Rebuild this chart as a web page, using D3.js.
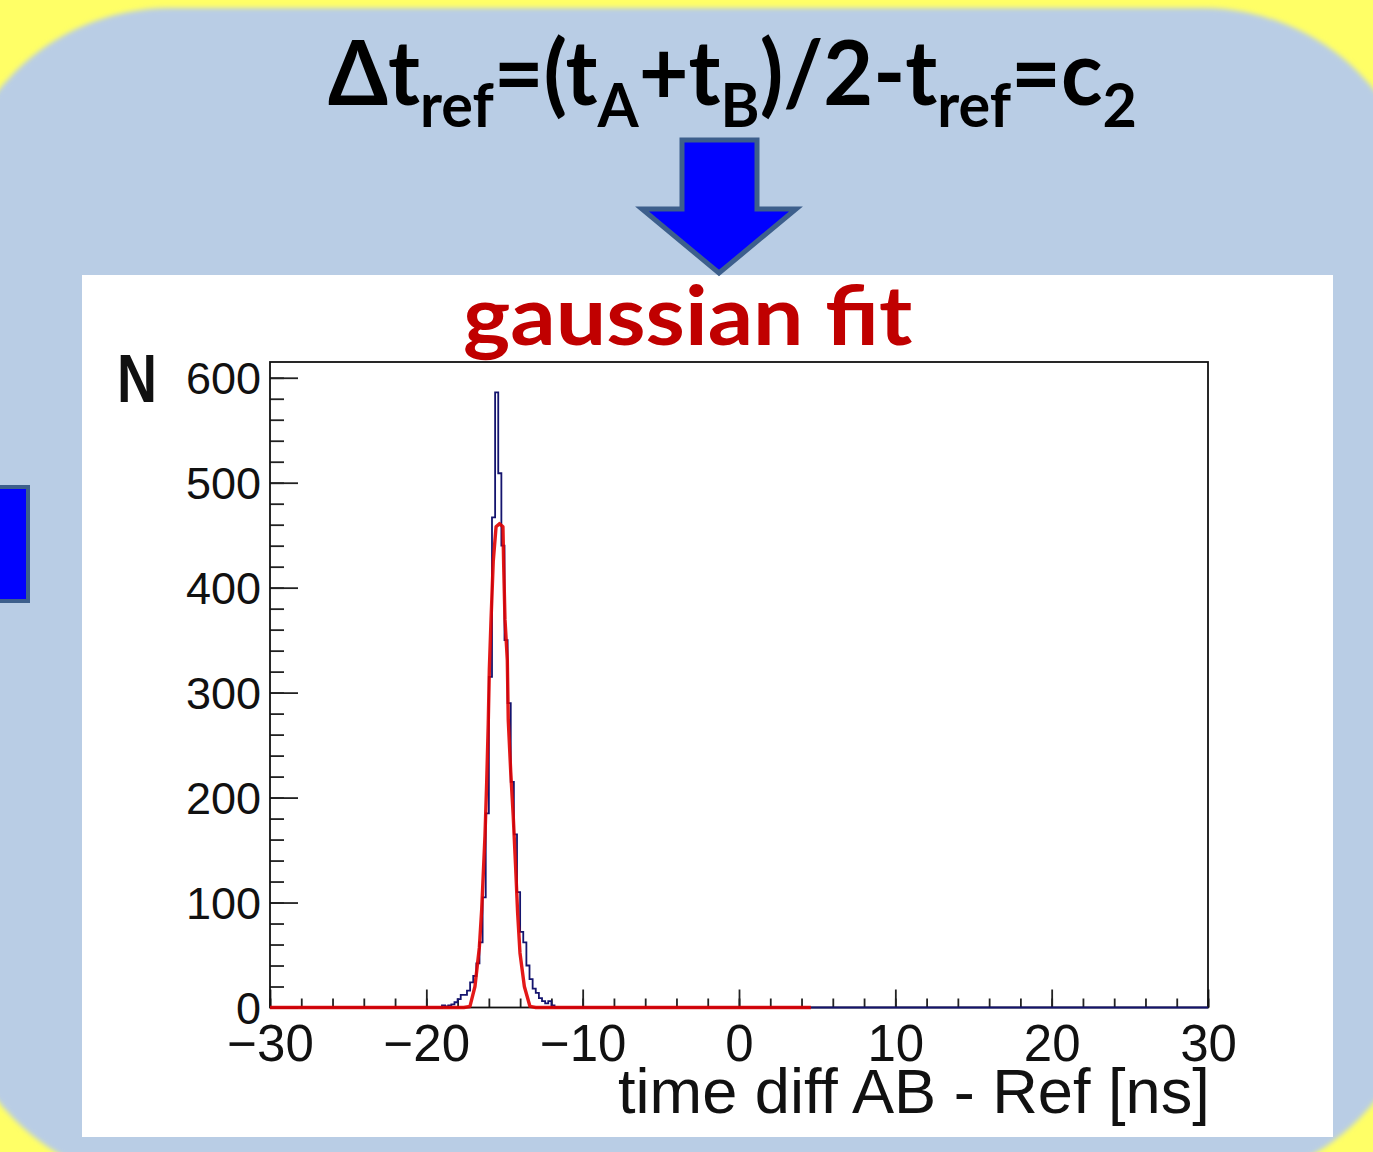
<!DOCTYPE html>
<html>
<head>
<meta charset="utf-8">
<script src="https://cdn.jsdelivr.net/npm/d3@7"></script>
<style>
  body { margin: 0; background: #ffff66; }
  svg { display: block; }
</style>
</head>
<body>
<div id="main"></div>
<script>
const W = 1373;
const H = 1152;

// axis ticks
const xMajor = [-30, -20, -10, 0, 10, 20, 30];
const xMinor = d3.range(-30, 30.01, 2);
const yMajor = [0, 100, 200, 300, 400, 500, 600];
const yMinor = d3.range(0, 601, 20);

// histogram (bin width 0.2 ns), left edges + counts, zero elsewhere
const binWidth = 0.2;
const histX = [-19.2, -19.0, -18.8, -18.6, -18.4, -18.2, -18.0, -17.8, -17.6, -17.4,
               -17.2, -17.0, -16.8, -16.6, -16.4, -16.2, -16.0, -15.8, -15.6, -15.4,
               -15.2, -15.0, -14.8, -14.6, -14.4, -14.2, -14.0, -13.8, -13.6, -13.4,
               -13.2, -13.0, -12.8, -12.6, -12.4, -12.2, -12.0];
const histN = [0, 2, 1, 2, 3, 5, 8, 12, 12, 16,
               24, 30, 42, 62, 105, 185, 315, 467, 586, 509,
               440, 350, 290, 215, 165, 110, 72, 62, 40, 27,
               18, 14, 9, 6, 4, 6, 2];

// gaussian fit curve as drawn (ns, N)
const fitX = [-30, -17.6, -17.21, -16.89, -16.61, -16.46, -16.25, -16.14, -16.04, -15.97,
              -15.86, -15.72, -15.54, -15.32, -15.10, -15.05, -14.97, -14.82, -14.76, -14.60,
              -14.44, -14.28, -14.16, -14.01, -13.73, -13.37, -13.0, 4.6];
const fitN = [0, 0, 1, 20, 57, 93, 163, 214, 270, 322,
              370, 425, 458, 461, 458, 420, 370, 331, 274, 224,
              182, 131, 90, 52, 20, 1, 0, 0];

var ctx = {
    fontSans: "'Liberation Sans', Arial, sans-serif",
    fontTitle: "Lato, 'Open Sans', sans-serif",
    panelBlue: "#b9cde5",
    arrowBlue: "#0000ff",
    arrowEdge: "#3d5f8c",
    frame: {left: 270, right: 1208, top: 362, bottom: 1007.5},
};

var x = d3.scaleLinear().domain([-30, 30]).range([ctx.frame.left, ctx.frame.right]);
var y = d3.scaleLinear().domain([0, 615]).range([ctx.frame.bottom, ctx.frame.top]);

// squeeze/stretch a text element horizontally so it spans [x0, x0+w]
var fitWidth = function(sel, x0, w){
    var bb = sel.node().getBBox();
    var s = w / bb.width;
    sel.attr("transform", "translate(" + x0 + ",0) scale(" + s + ",1) translate(" + (-bb.x) + ",0)");
};

var drawBackground = function(svg){
    var defs = svg.append("defs");
    defs.append("filter").attr("id", "soft")
        .append("feGaussianBlur").attr("stdDeviation", 2.5);

    svg.append("rect").attr("width", W).attr("height", H).attr("fill", "#ffff66");
    svg.append("rect")
       .attr("x", -50).attr("y", 8)
       .attr("width", W + 100).attr("height", 1176)
       .attr("rx", 220).attr("ry", 220)
       .attr("fill", ctx.panelBlue)
       .attr("filter", "url(#soft)");

    // small box cut by the left edge
    svg.append("rect")
       .attr("x", -10).attr("y", 487).attr("width", 38).attr("height", 114)
       .attr("fill", ctx.arrowBlue).attr("stroke", ctx.arrowEdge).attr("stroke-width", 4);

    // white canvas of the plot
    svg.append("rect")
       .attr("x", 82).attr("y", 275).attr("width", 1251).attr("height", 862)
       .attr("fill", "white");

    // down arrow
    var arrow = [[682, 140], [757, 140], [757, 209], [796, 209], [719, 273], [642, 209], [682, 209]];
    svg.append("path")
       .attr("d", d3.line()(arrow) + "Z")
       .attr("fill", ctx.arrowBlue).attr("stroke", ctx.arrowEdge)
       .attr("stroke-width", 5).attr("stroke-linejoin", "miter");
};

var drawTitles = function(svg){
    var f = svg.append("text")
       .attr("x", 328).attr("y", 105)
       .style("font-family", ctx.fontTitle).style("font-weight", 700)
       .style("font-size", "90px").attr("fill", "black");
    var parts = [["Δt", 0], ["ref", 1], ["=(t", 0], ["A", 1], ["+t", 0], ["B", 1],
                 [")/2-t", 0], ["ref", 1], ["=c", 0], ["2", 1]];
    var low = false;
    parts.forEach(function(p){
        var t = f.append("tspan").text(p[0]);
        if (p[1] && !low){ t.attr("dy", 22).style("font-size", "62px"); low = true; }
        else if (p[1]) { t.style("font-size", "62px"); }
        else if (low){ t.attr("dy", -22); low = false; }
    });
    fitWidth(f, 328, 809);

    var g = svg.append("text")
       .attr("x", 463).attr("y", 345)
       .style("font-family", ctx.fontTitle).style("font-weight", 700)
       .style("font-size", "82px").attr("fill", "#c00000")
       .text("gaussian fit");
    fitWidth(g, 463, 450);
};

var drawAxes = function(svg){
    var fmtX = function(d){ return d < 0 ? "\u2212" + Math.abs(d) : String(d); };

    var gxMinor = svg.append("g").attr("transform", "translate(0," + ctx.frame.bottom + ")")
       .call(d3.axisBottom(x).tickValues(xMinor).tickSize(-9).tickFormat(""));
    var gx = svg.append("g").attr("transform", "translate(0," + ctx.frame.bottom + ")")
       .call(d3.axisBottom(x).tickValues(xMajor).tickSize(-18).tickPadding(17).tickFormat(fmtX));

    var gyMinor = svg.append("g").attr("transform", "translate(" + ctx.frame.left + ",0)")
       .call(d3.axisLeft(y).tickValues(yMinor).tickSize(-14).tickFormat(""));
    var gy = svg.append("g").attr("transform", "translate(" + ctx.frame.left + ",0)")
       .call(d3.axisLeft(y).tickValues(yMajor).tickSize(-28).tickPadding(9));

    [gxMinor, gx, gyMinor, gy].forEach(function(a){
        a.select(".domain").remove();
        a.selectAll(".tick line").attr("stroke", "#222").attr("stroke-width", 1.8);
        a.selectAll("text").attr("fill", "#111").style("font-family", ctx.fontSans);
    });
    gx.selectAll("text").style("font-size", "51px").attr("dy", "0.71em");
    gy.selectAll("text").style("font-size", "45px").attr("dy", "0.35em");

    svg.append("rect")
       .attr("x", ctx.frame.left).attr("y", ctx.frame.top)
       .attr("width", ctx.frame.right - ctx.frame.left)
       .attr("height", ctx.frame.bottom - ctx.frame.top)
       .attr("fill", "none").attr("stroke", "#111").attr("stroke-width", 1.8);

    var n = svg.append("text")
       .attr("x", 117).attr("y", 402)
       .style("font-family", ctx.fontSans).style("font-weight", 700)
       .style("font-size", "68px").attr("fill", "#111")
       .text("N");
    fitWidth(n, 117, 40);

    var t = svg.append("text")
       .attr("x", 618).attr("y", 1113)
       .style("font-family", ctx.fontSans)
       .style("font-size", "62px").attr("fill", "#111")
       .text("time diff AB - Ref [ns]");
    fitWidth(t, 618, 592);
};

var drawHisto = function(svg){
    var pts = [[-30, 0]];
    histX.forEach(function(b, i){ pts.push([b, histN[i]]); });
    pts.push([histX[histX.length - 1] + binWidth, 0]);
    pts.push([30, 0]);

    var step = d3.line()
        .x(function(d){ return x(d[0]); })
        .y(function(d){ return y(d[1]); })
        .curve(d3.curveStepAfter);

    svg.append("path")
       .attr("d", step(pts))
       .attr("fill", "none").attr("stroke", "#14146e").attr("stroke-width", 1.8);

    var fitPts = fitX.map(function(v, i){ return [v, fitN[i]]; });
    var line = d3.line()
        .x(function(d){ return x(d[0]); })
        .y(function(d){ return y(d[1]); });

    svg.append("path")
       .attr("d", line(fitPts))
       .attr("fill", "none").attr("stroke", "#e00000")
       .attr("stroke-width", 3.4).attr("stroke-opacity", 0.9)
       .attr("stroke-linejoin", "round");
};

var createViz = function(){
    var svg = d3.select("#main").append("svg")
                .attr("width", W).attr("height", H);
    drawBackground(svg);
    drawTitles(svg);
    drawAxes(svg);
    drawHisto(svg);
};

createViz();
</script>
</body>
</html>
